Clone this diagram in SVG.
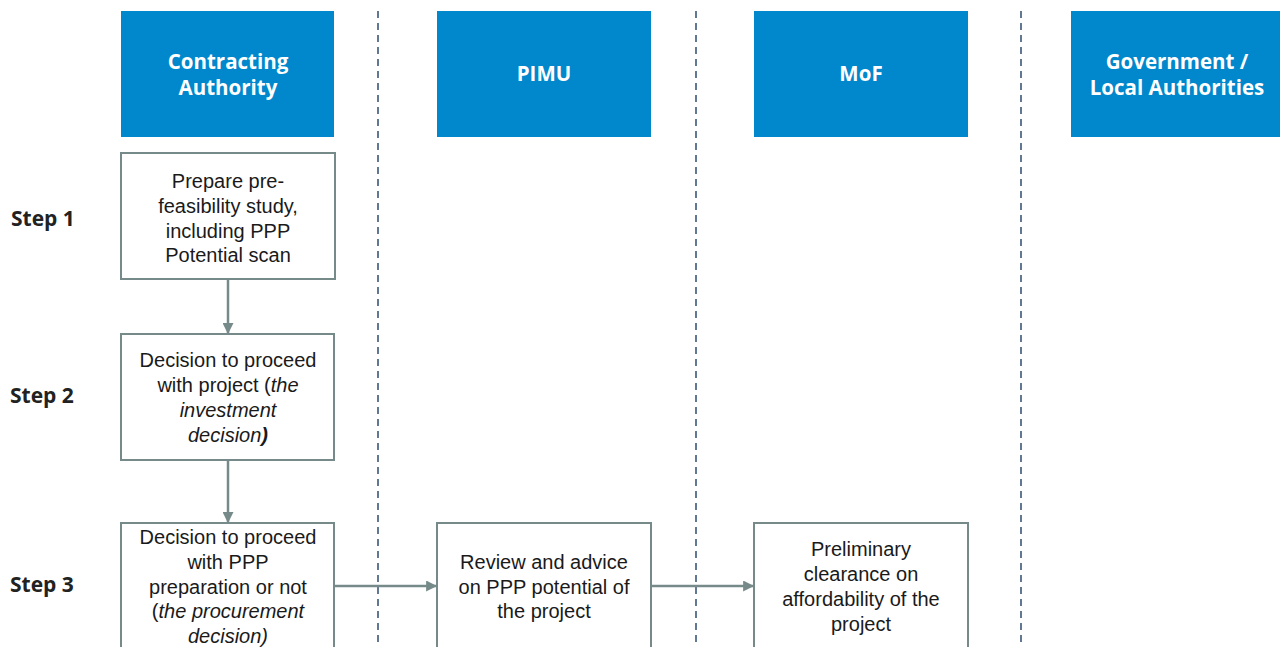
<svg xmlns="http://www.w3.org/2000/svg" width="1280" height="647" viewBox="0 0 1280 647">
  <defs>
    <marker id="arrow" viewBox="0 0 10 10" refX="9" refY="5" markerWidth="11" markerHeight="11" markerUnits="userSpaceOnUse" orient="auto">
      <path d="M0,0 L10,5 L0,10 z" fill="#778a8a"/>
    </marker>
    <style>
      .head { fill: #0087cc; }
      .headtxt { font-family: "Open Sans", "Noto Sans", sans-serif; font-weight: bold; font-size: 20.5px; fill: #ffffff; text-anchor: middle; }
      .lane { stroke: #3a5878; stroke-width: 1.6; stroke-dasharray: 7 5; fill: none; }
      .box { fill: #ffffff; stroke: #778a8a; stroke-width: 2; }
      .txt { font-family: "Liberation Sans", Arial, sans-serif; font-size: 20px; fill: #1a1a1a; text-anchor: middle; }
      .step { font-family: "Open Sans", "Noto Sans", sans-serif; font-weight: bold; font-size: 21px; fill: #222222; }
      .conn { stroke: #778a8a; stroke-width: 2.5; fill: none; marker-end: url(#arrow); }
      .it { font-style: italic; }
    </style>
  </defs>
  <rect width="1280" height="647" fill="#ffffff"/>

  <!-- swimlane separators -->
  <g id="lanes">
    <line class="lane" x1="378" y1="11" x2="378" y2="647"/>
    <line class="lane" x1="696" y1="11" x2="696" y2="647"/>
    <line class="lane" x1="1021" y1="11" x2="1021" y2="647"/>
  </g>

  <!-- lane headers -->
  <g id="head-ca">
    <rect class="head" x="121" y="11" width="213" height="126"/>
    <text class="headtxt" x="228" y="69">Contracting</text>
    <text class="headtxt" x="228" y="95">Authority</text>
  </g>
  <g id="head-pimu">
    <rect class="head" x="437" y="11" width="214" height="126"/>
    <text class="headtxt" x="544" y="81">PIMU</text>
  </g>
  <g id="head-mof">
    <rect class="head" x="754" y="11" width="214" height="126"/>
    <text class="headtxt" x="861" y="81">MoF</text>
  </g>
  <g id="head-gov">
    <rect class="head" x="1071" y="11" width="209" height="126"/>
    <text class="headtxt" x="1177" y="69">Government /</text>
    <text class="headtxt" x="1177" y="95">Local Authorities</text>
  </g>

  <!-- step labels -->
  <g id="steps">
    <text class="step" x="11" y="226">Step 1</text>
    <text class="step" x="10" y="403">Step 2</text>
    <text class="step" x="10" y="592">Step 3</text>
  </g>

  <!-- connectors -->
  <g id="connectors">
    <line class="conn" x1="228" y1="280" x2="228" y2="333"/>
    <line class="conn" x1="228" y1="461" x2="228" y2="522"/>
    <line class="conn" x1="335" y1="586" x2="436" y2="586"/>
    <line class="conn" x1="652" y1="586" x2="753" y2="586"/>
  </g>

  <!-- process boxes -->
  <g id="step1">
    <rect class="box" x="121" y="153" width="214" height="126"/>
    <text class="txt" x="228" y="188">Prepare pre-</text>
    <text class="txt" x="228" y="213">feasibility study,</text>
    <text class="txt" x="228" y="238">including PPP</text>
    <text class="txt" x="228" y="262">Potential scan</text>
  </g>
  <g id="step2">
    <rect class="box" x="121" y="334" width="213" height="126"/>
    <text class="txt" x="228" y="367">Decision to proceed</text>
    <text class="txt" x="228" y="392">with project (<tspan class="it">the</tspan></text>
    <text class="txt it" x="228" y="417">investment</text>
    <text class="txt" x="228" y="442"><tspan class="it">decision</tspan><tspan font-weight="bold" font-style="italic">)</tspan></text>
  </g>
  <g id="step3">
    <rect class="box" x="121" y="523" width="213" height="140"/>
    <text class="txt" x="228" y="544">Decision to proceed</text>
    <text class="txt" x="228" y="569">with PPP</text>
    <text class="txt" x="228" y="594">preparation or not</text>
    <text class="txt" x="228" y="618">(<tspan class="it">the procurement</tspan></text>
    <text class="txt it" x="228" y="643">decision)</text>
  </g>
  <g id="pimu-review">
    <rect class="box" x="437" y="523" width="214" height="140"/>
    <text class="txt" x="544" y="569">Review and advice</text>
    <text class="txt" x="544" y="594">on PPP potential of</text>
    <text class="txt" x="544" y="618">the project</text>
  </g>
  <g id="mof-clearance">
    <rect class="box" x="754" y="523" width="214" height="140"/>
    <text class="txt" x="861" y="556">Preliminary</text>
    <text class="txt" x="861" y="581">clearance on</text>
    <text class="txt" x="861" y="606">affordability of the</text>
    <text class="txt" x="861" y="631">project</text>
  </g>
</svg>
